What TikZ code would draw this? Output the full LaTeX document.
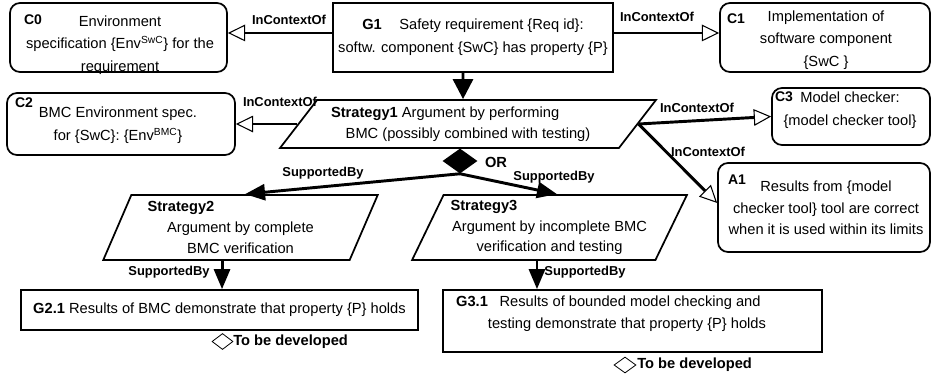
\documentclass[tikz,border=0pt]{standalone}
\usepackage{fontspec}
\setmainfont{Liberation Sans}
\usetikzlibrary{shapes.geometric,arrows.meta}

\begin{document}
\begin{tikzpicture}[x=0.75pt,y=-0.75pt,
  box/.style={draw,line width=1.3pt,fill=white,inner sep=0pt},
  ctxbox/.style={box,rounded corners=7.5pt},
  goal/.style={box,align=center,font=\fontsize{11}{17}\selectfont},
  stratbox/.style={box,trapezium,trapezium stretches=true,align=center,font=\fontsize{11}{15.5}\selectfont},
  txt/.style={inner sep=0pt,align=center,font=\fontsize{11}{17}\selectfont},
  idl/.style={inner sep=0pt,font=\bfseries\fontsize{10.5}{12}\selectfont},
  lbl/.style={inner sep=0pt,font=\bfseries\fontsize{9.7}{11}\selectfont},
  ctxarrow/.style={line width=2.2pt,-{Triangle[open,length=13pt,width=12.5pt,line width=0.8pt]}},
  supparrow/.style={line width=2.2pt,-{Triangle[length=15pt,width=12pt]}}]

\useasboundingbox (0,0) rectangle (932,379);

%top row
\node [ctxbox,minimum width=162.75pt,minimum height=51.75pt] (c0) at (118.5,37.5) {};
\node [txt] (c0txt) at (120,45) {Environment\\specification \{Env\textsuperscript{SwC}\} for the\\requirement};
\node [idl] (c0id) at (33,20) {C0};

\node [goal,minimum width=210pt,minimum height=51.75pt] (g1) at (473,37.5) {\textbf{G1}\hspace{1.2em}Safety requirement \{Req id\}:\\softw. component \{SwC\} has property \{P\}};

\node [ctxbox,minimum width=157.5pt,minimum height=51.75pt] (c1) at (825,37.5) {};
\node [txt] (c1txt) at (826,40) {Implementation of\\software component\\\{SwC \}};
\node [idl] (c1id) at (736,19) {C1};

%strategy1 and its contexts
\node [ctxbox,minimum width=171pt,minimum height=46.5pt] (c2) at (121,124) {};
\node [txt] (c2txt) at (118,125.5) {BMC Environment spec.\\for \{SwC\}: \{Env\textsuperscript{BMC}\}};
\node [idl] (c2id) at (24,103) {C2};

\node [stratbox,trapezium left angle=45.6,trapezium right angle=134.4,minimum width=282pt,minimum height=36pt] (s1) at (468,124) {\makebox[205.5pt][l]{\textbf{Strategy1} Argument by performing}\\BMC (possibly combined with testing)};

\node [ctxbox,minimum width=118.5pt,minimum height=42.75pt] (c3) at (851,116.5) {};
\node [txt] (c3txt) at (850,110) {Model checker:\\\{model checker tool\}};
\node [idl] (c3id) at (784,97) {C3};

\node [ctxbox,minimum width=159pt,minimum height=66.75pt] (a1) at (824,207.5) {};
\node [txt,font=\fontsize{11}{16}\selectfont] (a1txt) at (826,208) {Results from \{model\\checker tool\} tool are correct\\when it is used within its limits};
\node [idl] (a1id) at (737,180) {A1};

\node [fill=black,diamond,minimum width=26.25pt,minimum height=18.75pt,inner sep=0pt] (or) at (460,161) {};
\node [lbl,font=\bfseries\fontsize{11}{12}\selectfont] (ortxt) at (496,162) {OR};

%second row
\node [stratbox,trapezium left angle=65.2,trapezium right angle=114.8,minimum width=206.25pt,minimum height=48.75pt] (s2) at (240.5,227.5) {\makebox[139.5pt][l]{\textbf{Strategy2}}\\Argument by complete\\BMC verification};
\node [stratbox,trapezium left angle=61.7,trapezium right angle=118.3,minimum width=206.25pt,minimum height=48.75pt] (s3) at (549.5,227.5) {\makebox[148.5pt][l]{\textbf{Strategy3}}\\Argument by incomplete BMC\\verification and testing};

%goals
\node [goal,minimum width=297.75pt,minimum height=30pt] (g21) at (219.5,310) {\textbf{G2.1} Results of BMC demonstrate that property \{P\} holds};
\node [box,minimum width=284.25pt,minimum height=46.5pt] (g31) at (632.5,321) {};
\node [txt,font=\fontsize{11}{16.5}\selectfont] (g31txt) at (627,314) {\textbf{G3.1}\hspace{0.8em}Results of bounded model checking and\hspace*{28pt}\\testing demonstrate that property \{P\} holds};

\node [draw,diamond,line width=0.6pt,minimum width=15.75pt,minimum height=12pt,inner sep=0pt] (tbd1) at (222.5,341.5) {};
\node [lbl,font=\bfseries\fontsize{11}{12}\selectfont,anchor=west] (tbd1txt) at (233,341.5) {To be developed};
\node [draw,diamond,line width=0.6pt,minimum width=16.5pt,minimum height=12pt,inner sep=0pt] (tbd2) at (625,365) {};
\node [lbl,font=\bfseries\fontsize{11}{12}\selectfont,anchor=west] (tbd2txt) at (637,365) {To be developed};

%arrows
\draw [ctxarrow] ([yshift=3.4pt]g1.west) -- ([yshift=3.4pt]c0.east);
\draw [ctxarrow] ([yshift=3.4pt]g1.east) -- ([yshift=3.4pt]c1.west);
\draw [line width=2.2pt,-{Triangle[length=15pt,width=15pt]}] ([xshift=-7.5pt]g1.south) -- ([xshift=-3.75pt]s1.north);
\draw [ctxarrow] (s1.left side) -- (c2.east |- s1.left side);
\draw [ctxarrow] (s1.right side) -- (c3.west);
\draw [ctxarrow] (s1.right side) -- ([yshift=3.4pt]a1.west);
\draw [supparrow] (or.south) -- ([xshift=3.4pt]s2.north);
\draw [supparrow] (or.south) -- ([xshift=5.6pt]s3.north);
\draw [supparrow] ([xshift=1.9pt]s2.south -| g21.north) -- ([xshift=1.9pt]g21.north);
\draw [supparrow] ([xshift=-9.4pt]s3.south) -- ([xshift=-9.4pt]s3.south |- g31.north);

%labels
\node [lbl] (l1) at (289,20) {InContextOf};
\node [lbl] (l2) at (657,17) {InContextOf};
\node [lbl] (l3) at (280,102) {InContextOf};
\node [lbl] (l4) at (697,108) {InContextOf};
\node [lbl] (l5) at (708,152) {InContextOf};
\node [lbl] (l6) at (323,173) {SupportedBy};
\node [lbl] (l7) at (554,177) {SupportedBy};
\node [lbl] (l8) at (169,272) {SupportedBy};
\node [lbl] (l9) at (585,272) {SupportedBy};

\end{tikzpicture}
\end{document}
